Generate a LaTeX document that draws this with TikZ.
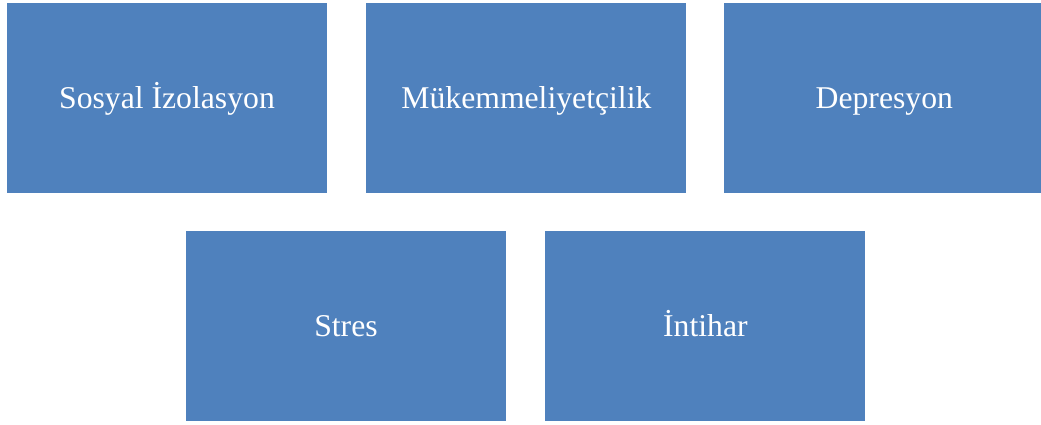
\documentclass[tikz,border=0pt]{standalone}
\usepackage{fontspec}
\setmainfont{Liberation Serif}
\usetikzlibrary{positioning}
\definecolor{kutumavi}{HTML}{4F81BD}
\tikzset{%
  kutu/.style={%
    fill=kutumavi, text=white, inner sep=0pt,
    minimum width=320pt, minimum height=190pt,
    text height=22pt, text depth=2pt,
    font=\fontsize{31.7}{36}\selectfont
  }
}
\begin{document}
\begin{tikzpicture}[x=1pt, y=1pt, node distance=38pt]
    \useasboundingbox (0,0) rectangle (1041,424);
    \node[kutu] (izolasyon) at (167,326) {Sosyal İzolasyon};
    \node[kutu, right=39pt of izolasyon] (mukemmel) {Mükemmeliyetçilik};
    \node[kutu, right=37.5pt of mukemmel] (depresyon) {Depresyon};
    \node[kutu] (stres) at (346,98) {Stres};
    \node[kutu, right=39pt of stres] (intihar) {İntihar};
  \end{tikzpicture}
\end{document}
